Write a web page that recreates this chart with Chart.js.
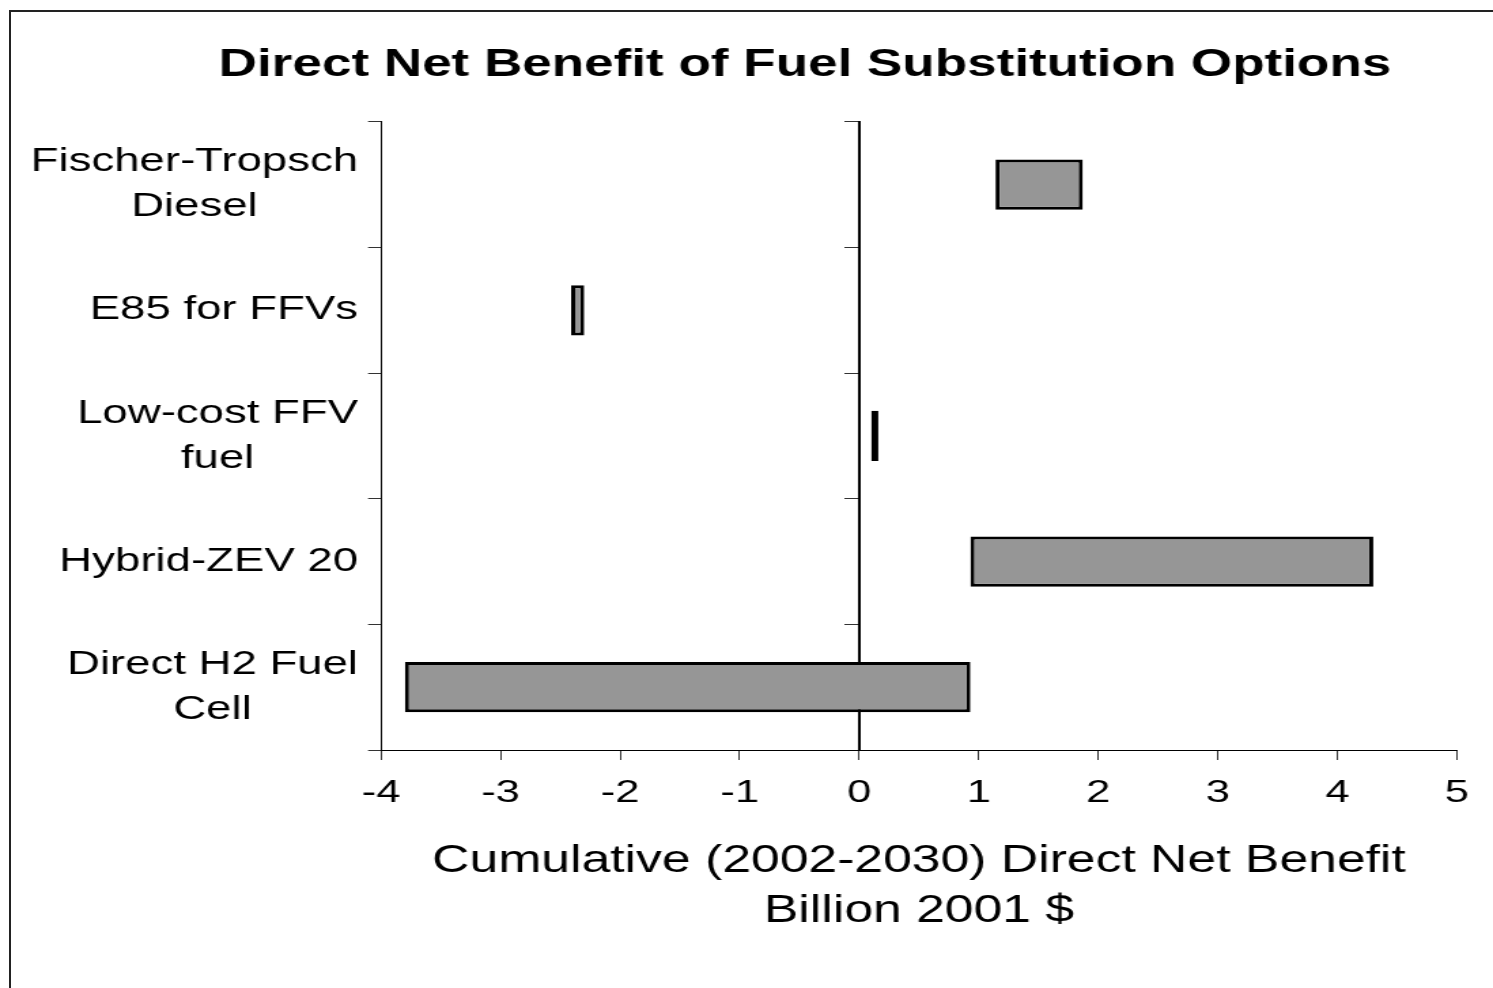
<!DOCTYPE html>
<html>
<head>
<meta charset="utf-8">
<script src="https://cdn.jsdelivr.net/npm/chart.js@4.4.1/dist/chart.umd.min.js"></script>
<style>
  html, body { margin: 0; padding: 0; background: #fff; overflow: hidden; }
  #wrap { position: relative; width: 1493px; height: 988px; }
  #benefitChart { position: absolute; left: 0; top: 0; transform: scaleX(1.35975); transform-origin: 0 0; }
  #frame { position: absolute; left: 9px; top: 10px; right: -10px; bottom: -10px;
           border-left: 2px solid #222; border-top: 2px solid #222; }
</style>
</head>
<body>
<div id="wrap">
  <canvas id="benefitChart" width="1098" height="988"></canvas>
  <div id="frame"></div>
</div>
<script>
// Data (billion 2001 $)
const categories = [
    ['Fischer-Tropsch', 'Diesel'],
    ['E85 for FFVs'],
    ['Low-cost FFV', 'fuel'],
    ['Hybrid-ZEV 20'],
    ['Direct H2 Fuel', 'Cell']
];
const rangeStart = [1.14, -2.41, 0.10, 0.93, -3.80];
const rangeEnd = [1.87, -2.30, 0.16, 4.30, 0.93];
const xTicks = [-4, -3, -2, -1, 0, 1, 2, 3, 4, 5];

const FONT = "'Liberation Sans', Arial, sans-serif";

// category labels: block right-aligned, lines centred inside the block
const categoryLabels = {
    id: 'categoryLabels',
    afterDraw(chart) {
        const ctx = chart.ctx;
        const yScale = chart.scales.y;
        const right = 263.3;
        const lineH = 45;
        ctx.save();
        ctx.font = '33.5px ' + FONT;
        ctx.fillStyle = '#000';
        ctx.textAlign = 'center';
        ctx.textBaseline = 'middle';
        categories.forEach((lines, i) => {
            const widest = Math.max(...lines.map(l => ctx.measureText(l).width));
            const cx = right - widest / 2;
            const cy = yScale.getPixelForTick(i);
            const top = cy - (lines.length - 1) * lineH / 2;
            lines.forEach((l, j) => ctx.fillText(l, cx, top + j * lineH));
        });
        ctx.restore();
    }
};

document.addEventListener('DOMContentLoaded', () => {
    const ctx = document.getElementById('benefitChart').getContext('2d');
    new Chart(ctx, {
        type: 'bar',
        data: {
            labels: categories.map(c => c.join(' ')),
            datasets: [{
                data: rangeStart.map((s, i) => [s, rangeEnd[i]]),
                backgroundColor: '#969696',
                borderColor: '#000',
                borderWidth: 3,
                borderSkipped: false,
                barPercentage: 0.4,
                categoryPercentage: 1.0
            }]
        },
        options: {
            indexAxis: 'y',
            responsive: false,
            devicePixelRatio: 1,
            animation: false,
            layout: { padding: { left: 112.5, right: 26.5, top: 0, bottom: 0 } },
            plugins: {
                legend: { display: false },
                tooltip: { enabled: false },
                title: {
                    display: true,
                    text: 'Direct Net Benefit of Fuel Substitution Options',
                    color: '#000',
                    font: { family: FONT, size: 39, weight: 'bold' },
                    padding: { top: 42, bottom: 33 }
                }
            },
            scales: {
                x: {
                    type: 'linear',
                    min: xTicks[0],
                    max: xTicks[xTicks.length - 1],
                    afterBuildTicks: scale => { scale.ticks = xTicks.map(v => ({ value: v })); },
                    afterFit: scale => { scale.height = 238; },
                    grid: { drawOnChartArea: false, tickLength: 10, color: '#333' },
                    border: { color: '#000', width: 1 },
                    ticks: { color: '#000', padding: 14, font: { family: FONT, size: 32 } },
                    title: {
                        display: true,
                        text: ['Cumulative (2002-2030) Direct Net Benefit', 'Billion 2001 $'],
                        color: '#000',
                        font: { family: FONT, size: 38, lineHeight: 50 / 38 },
                        padding: { top: 0, bottom: 51 }
                    }
                },
                y: {
                    position: 'left',
                    afterFit: scale => { scale.width = 167.7; },
                    grid: { offset: true, drawOnChartArea: false, tickLength: 9.5, color: '#333' },
                    border: { color: '#000', width: 1 },
                    ticks: { display: false }
                },
                zeroAxis: {
                    type: 'category',
                    axis: 'y',
                    position: { x: 0 },
                    z: 1,
                    grid: { offset: true, drawOnChartArea: false, tickLength: 10, color: '#333' },
                    border: { color: '#000', width: 2 },
                    ticks: { display: false }
                }
            }
        },
        plugins: [categoryLabels]
    });
});
</script>
</body>
</html>
